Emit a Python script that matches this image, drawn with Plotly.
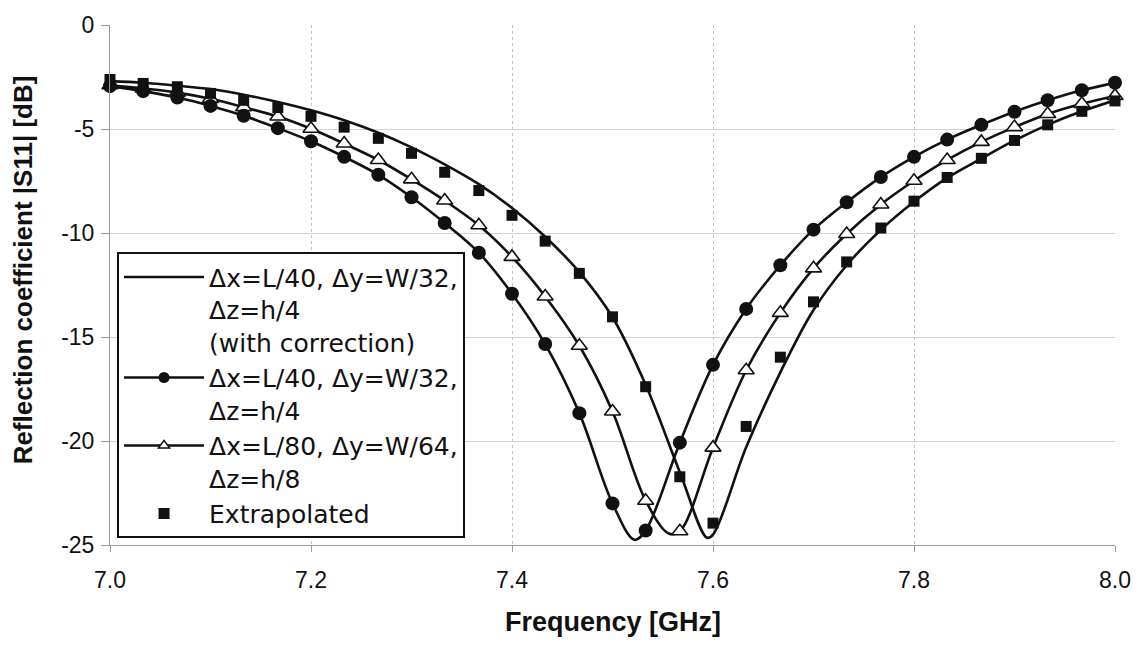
import plotly.graph_objects as go

# ---------------- data ----------------
FREQ = [7.000, 7.033, 7.067, 7.100, 7.133, 7.167, 7.200, 7.233, 7.267, 7.300,
        7.333, 7.367, 7.400, 7.433, 7.467, 7.500, 7.533, 7.567, 7.600, 7.633,
        7.667, 7.700, 7.733, 7.767, 7.800, 7.833, 7.867, 7.900, 7.933, 7.967,
        8.000]

# dx=L/40, dy=W/32, dz=h/4 (filled circles)
S11_L40 = [-2.94, -3.18, -3.49, -3.89, -4.36, -4.96, -5.59, -6.34, -7.20, -8.28,
           -9.52, -10.95, -12.92, -15.34, -18.66, -23.00, -24.30, -20.08, -16.34, -13.65,
           -11.55, -9.84, -8.52, -7.31, -6.34, -5.51, -4.80, -4.17, -3.62, -3.14,
           -2.78]
DIP_L40 = (7.522, -24.75)

# dx=L/80, dy=W/64, dz=h/8 (open triangles)
S11_L80 = [-2.90, -3.05, -3.25, -3.55, -3.95, -4.40, -4.99, -5.70, -6.49, -7.42,
           -8.44, -9.63, -11.15, -13.05, -15.42, -18.58, -22.87, -24.34, -20.32, -16.60,
           -13.84, -11.70, -10.05, -8.63, -7.49, -6.49, -5.62, -4.91, -4.28, -3.79,
           -3.41]
DIP_L80 = (7.556, -24.45)

# Extrapolated (filled squares)
S11_EXTRAP = [-2.62, -2.81, -2.97, -3.29, -3.62, -3.97, -4.39, -4.91, -5.45, -6.17,
              -7.08, -7.96, -9.15, -10.39, -11.94, -14.03, -17.39, -21.72, -23.95, -19.30,
              -15.97, -13.31, -11.39, -9.76, -8.47, -7.33, -6.41, -5.55, -4.80, -4.15,
              -3.65]

# dx=L/40, dy=W/32, dz=h/4 with correction (solid line only)
CORR_FREQ = [7.000, 7.033, 7.067, 7.100, 7.133, 7.167, 7.200, 7.233, 7.267, 7.300,
             7.333, 7.367, 7.400, 7.433, 7.467, 7.500, 7.533, 7.567, 7.594, 7.600,
             7.633, 7.667, 7.700, 7.733, 7.767, 7.800, 7.833, 7.867, 7.900, 7.933,
             7.967, 8.000]
CORR_S11 = [-2.70, -2.78, -2.92, -3.08, -3.35, -3.70, -4.10, -4.58, -5.18, -5.88,
            -6.70, -7.65, -8.80, -10.18, -11.88, -14.05, -17.30, -21.50, -24.65, -24.50,
            -20.30, -16.70, -13.70, -11.55, -9.85, -8.50, -7.35, -6.42, -5.55, -4.80,
            -4.15, -3.62]

NAMES = ["\u0394x=L/40, \u0394y=W/32,<br>\u0394z=h/4<br>(with correction)",
         "\u0394x=L/40, \u0394y=W/32,<br>\u0394z=h/4",
         "\u0394x=L/80, \u0394y=W/64,<br>\u0394z=h/8",
         "Extrapolated"]

X_TICKS = [7.0, 7.2, 7.4, 7.6, 7.8, 8.0]
X_TICK_TEXT = ["7.0", "7.2", "7.4", "7.6", "7.8", "8.0"]
Y_TICKS = [0, -5, -10, -15, -20, -25]
Y_TICK_TEXT = ["0", "-5", "-10", "-15", "-20", "-25"]

X_TITLE = "Frequency [GHz]"
Y_TITLE = "Reflection coefficient |S11| [dB]"


def with_dip(xs, ys, dip):
    pts = sorted(list(zip(xs, ys)) + [dip])
    return [p[0] for p in pts], [p[1] for p in pts]


BLACK = "#111111"
LW = 2.6
FONT = "Liberation Sans, Arial, sans-serif"
LEG_FONT = "DejaVu Sans, Liberation Sans, sans-serif"

fig = go.Figure()

# ---- curves ----
fig.add_trace(go.Scatter(x=CORR_FREQ, y=CORR_S11, mode="lines",
                         line=dict(color=BLACK, width=LW, shape="spline"),
                         showlegend=False, cliponaxis=False))

lx, ly = with_dip(FREQ, S11_L40, DIP_L40)
fig.add_trace(go.Scatter(x=lx, y=ly, mode="lines",
                         line=dict(color=BLACK, width=LW, shape="spline"),
                         showlegend=False, cliponaxis=False))
lx, ly = with_dip(FREQ, S11_L80, DIP_L80)
fig.add_trace(go.Scatter(x=lx, y=ly, mode="lines",
                         line=dict(color=BLACK, width=LW, shape="spline"),
                         showlegend=False, cliponaxis=False))

# ---- markers ----
fig.add_trace(go.Scatter(x=FREQ, y=S11_L80, mode="markers",
                         marker=dict(symbol="triangle-up", size=14, color="white",
                                     line=dict(color=BLACK, width=1.6)),
                         showlegend=False, cliponaxis=False))
fig.add_trace(go.Scatter(x=FREQ, y=S11_L40, mode="markers",
                         marker=dict(symbol="circle", size=14, color=BLACK),
                         showlegend=False, cliponaxis=False))
fig.add_trace(go.Scatter(x=FREQ, y=S11_EXTRAP, mode="markers",
                         marker=dict(symbol="square", size=11, color=BLACK),
                         showlegend=False, cliponaxis=False))

# ---- legend entries ----
fig.add_trace(go.Scatter(x=[None], y=[None], mode="lines", name=NAMES[0],
                         line=dict(color=BLACK, width=LW), legendgroup="a"))
fig.add_trace(go.Scatter(x=[None], y=[None], mode="lines+markers", name=NAMES[1],
                         line=dict(color=BLACK, width=LW),
                         marker=dict(symbol="circle", size=11, color=BLACK),
                         legendgroup="b"))
fig.add_trace(go.Scatter(x=[None], y=[None], mode="lines+markers", name=NAMES[2],
                         line=dict(color=BLACK, width=LW),
                         marker=dict(symbol="triangle-up", size=10, color="white",
                                     line=dict(color=BLACK, width=1.4)),
                         legendgroup="c"))
fig.add_trace(go.Scatter(x=[None], y=[None], mode="markers", name=NAMES[3],
                         marker=dict(symbol="square", size=11, color=BLACK),
                         legendgroup="d"))

fig.update_layout(
    width=1144, height=646,
    margin=dict(l=110, r=29, t=18, b=101),
    paper_bgcolor="white", plot_bgcolor="white",
    font=dict(family=FONT, size=23, color=BLACK),
    legend=dict(x=0.007, y=0.013, xanchor="left", yanchor="bottom",
                bgcolor="white", bordercolor=BLACK, borderwidth=2,
                font=dict(family=LEG_FONT, size=25, color=BLACK),
                valign="top", itemwidth=80, tracegroupgap=1,
                traceorder="normal"),
    xaxis=dict(range=[7.0, 8.0], tickvals=X_TICKS, ticktext=X_TICK_TEXT,
               showgrid=True, gridcolor="#c4c4c4", griddash="dot", gridwidth=1,
               showline=True, linecolor="#9a9a9a", linewidth=1,
               ticks="outside", ticklen=6, tickcolor="#9a9a9a",
               ticklabelstandoff=8, zeroline=False,
               tickfont=dict(size=23, family=FONT, color=BLACK)),
    yaxis=dict(range=[-25, 0], tickvals=Y_TICKS, ticktext=Y_TICK_TEXT,
               showgrid=True, gridcolor="#d2d2d2", gridwidth=1,
               showline=True, linecolor="#9a9a9a", linewidth=1,
               ticks="outside", ticklen=8, tickcolor="#9a9a9a",
               ticklabelstandoff=2, zeroline=False,
               tickfont=dict(size=23, family=FONT, color=BLACK)),
    annotations=[
        dict(text="<b>" + X_TITLE + "</b>", xref="paper", yref="paper",
             x=0.5, y=-0.148, xanchor="center", yanchor="middle", showarrow=False,
             font=dict(size=27, family=FONT, color=BLACK)),
        dict(text="<b>" + Y_TITLE + "</b>", xref="paper", yref="paper",
             x=-0.0866, y=0.53, xanchor="center", yanchor="middle", showarrow=False,
             textangle=-90, font=dict(size=26, family=FONT, color=BLACK)),
    ],
)

fig.write_html("out.html")
